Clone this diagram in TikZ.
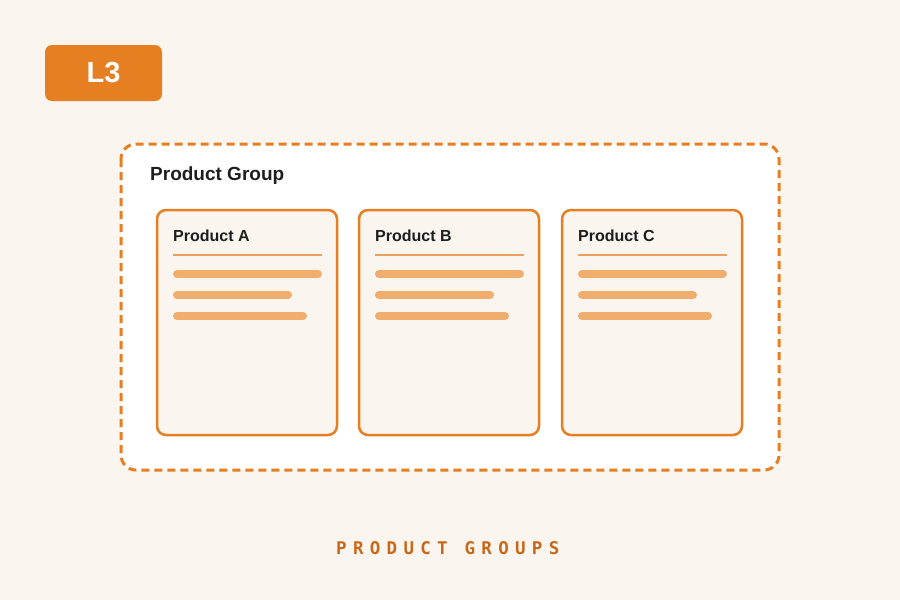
\documentclass[tikz,border=0pt]{standalone}
\usepackage{fontspec}
\setmainfont{Liberation Sans}
\newfontfamily\spacedfont[LetterSpace=36]{DejaVu Sans Mono}
\definecolor{bgc}{HTML}{FAF5EF}
\definecolor{org}{HTML}{E67E22}
\definecolor{barc}{HTML}{F0AD6E}
\definecolor{sepc}{HTML}{E9A062}
\definecolor{capc}{HTML}{C8681A}
\definecolor{txt}{HTML}{1E1E1E}
\tikzset{
  groupbox/.style={draw=org, fill=white, line width=3pt, dash pattern=on 8pt off 5pt, rounded corners=15pt},
  card/.style={draw=org, fill=bgc, line width=2.5pt, rounded corners=9pt},
  cardtitle/.style={anchor=base west, inner sep=0pt, font=\bfseries\fontsize{16}{18}\selectfont, text=txt},
  sepline/.style={draw=sepc, line width=1.5pt},
  bar/.style={draw=barc, line width=8pt, line cap=round},
}
\begin{document}
\begin{tikzpicture}[x=1pt,y=-1pt]
\fill[bgc] (0,0) rectangle (900,600);
\useasboundingbox (0,0) rectangle (900,600);
% badge
\fill[org, rounded corners=7pt] (45,45) rectangle (162,101);
\node (l3) at (103.5,73) {\bfseries\fontsize{29}{32}\selectfont\color{white}L3};
% group box
\draw[groupbox] (121,144) rectangle (779,470);
\node[anchor=base west, inner sep=0pt, font=\bfseries\fontsize{19}{22}\selectfont, text=txt] (gt) at (150,180) {Product Group};
% cards
\foreach \x/\n in {157/A,359/B,562/C}{
  \draw[card] (\x,210) rectangle ++(180,225);
  \node[cardtitle] (t\n) at (\x+16,241) {Product \n};
  \draw[sepline] (\x+16,255) -- ++(149,0);
  \draw[bar] (\x+20,274) -- ++(141,0);
  \draw[bar] (\x+20,295) -- ++(111,0);
  \draw[bar] (\x+20,316) -- ++(126,0);
}
\node[anchor=base west, inner sep=0pt, text=capc] (cap) at (336,554) {\spacedfont\bfseries\fontsize{17.5}{20}\selectfont PRODUCT GROUPS};
\end{tikzpicture}
\end{document}
